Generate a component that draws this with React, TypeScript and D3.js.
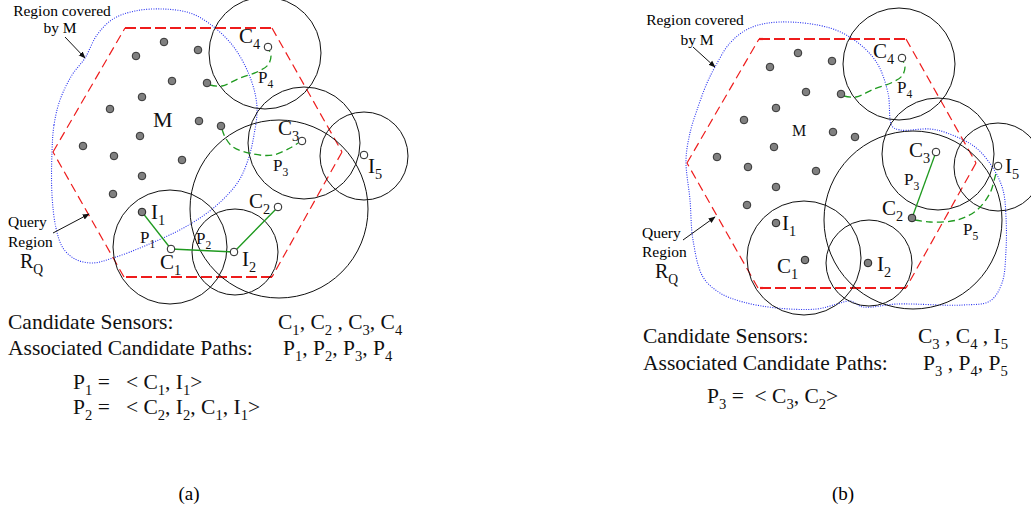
import * as d3 from 'd3';

// diagram units = panel (a) pixels; panel (b) uses the same geometry shifted
const memberDots: [number, number][] = [
  [164, 42], [136, 56], [198, 50], [172, 81], [207, 83], [142, 97], [110, 109],
  [199, 121], [221, 126], [140, 136], [83, 146], [114, 156], [182, 160],
  [142, 176], [113, 194],
];

const nodeNames = ['I1', 'C1', 'I2', 'C2', 'C3', 'C4', 'I5'];
const nodeX = [142, 171, 234, 278, 302, 268, 364];
const nodeY = [212, 249, 252, 207, 141, 47, 155];

const rangeCenters: [number, number][] = [
  [265, 53], [304, 143], [364, 156], [279, 209], [170, 247], [235, 252],
];
const rangeRadii = [56, 56, 44, 89, 57, 43];

const queryRegion: [number, number][] = [
  [125, 28], [272, 28], [342, 152], [272, 277], [124, 277], [53, 152],
];

const coveredA: [number, number][] = [
  [52, 152], [54, 125], [60, 100], [72, 75], [85, 58], [97, 35], [113, 19],
  [135, 11], [163, 9], [190, 13], [210, 24], [233, 46], [250, 77], [257, 107],
  [254, 135], [248, 160], [238, 182], [217, 205], [187, 226], [147, 245],
  [113, 258], [92, 263], [75, 259], [63, 248], [56, 228], [52, 195],
];

const coveredB: [number, number][] = [
  [52, 149], [56, 122], [63, 99], [73, 72], [81, 56], [96, 32], [116, 17],
  [146, 11], [196, 17], [223, 31], [243, 52], [254, 82], [258, 115], [266, 119],
  [296, 118], [313, 122], [341, 136], [359, 157], [369, 179], [372, 206],
  [372, 239], [368, 272], [356, 290], [329, 294], [263, 293], [229, 296],
  [216, 290], [203, 293], [183, 298], [143, 297], [109, 291], [86, 282],
  [69, 266], [59, 229], [56, 189],
];

const pathP4: [number, number][] = [
  [210, 85], [222, 86], [240, 78], [257, 72], [268, 65], [271, 56], [269, 50],
];
const pathP3a: [number, number][] = [
  [222, 129], [225, 137], [233, 147], [253, 154], [273, 155], [290, 148], [298, 143],
];
const pathP5: [number, number][] = [
  [281, 209], [296, 211], [323, 209], [343, 199], [356, 182], [361, 166], [363, 158],
];
const pathP1: [number, number][] = [[142, 212], [171, 249]];
const pathP2: [number, number][] = [[171, 249], [234, 252], [278, 207]];
const pathP3b: [number, number][] = [[302, 141], [278, 207]];

const labelsA: [string, number, number][] = [
  ['C_4', 239, 43], ['P_4', 258, 83], ['M', 153, 127], ['C_3', 278, 135],
  ['P_3', 273, 171], ['I_5', 368, 173], ['C_2', 249, 208], ['I_1', 151, 219],
  ['P_1', 140, 243], ['P_2', 196, 244], ['C_1', 160, 269], ['I_2', 242, 266],
];
const labelsB: [string, number, number][] = [
  ['C_4', 239, 47], ['P_4', 263, 82], ['M', 158, 125], ['C_3', 275, 146],
  ['P_3', 270, 174], ['I_5', 371, 162], ['C_2', 248, 204], ['P_5', 329, 224],
  ['I_1', 148, 219], ['C_1', 143, 262], ['I_2', 243, 260],
];

const openA = ['C1', 'C2', 'C3', 'C4', 'I2', 'I5'];
const openB = ['C3', 'C4', 'I5'];

const summaryA = [
  ['Candidate Sensors:', 'C_1, C_2 , C_3, C_4'],
  ['Associated Candidate Paths:', 'P_1, P_2, P_3, P_4'],
];
const summaryB = [
  ['Candidate Sensors:', 'C_3 , C_4 , I_5'],
  ['Associated Candidate Paths:', 'P_3 , P_4, P_5'],
];
const pathDefsA = ['P_1 =   < C_1, I_1>', 'P_2 =   < C_2, I_2, C_1, I_1>'];
const pathDefsB = ['P_3 =  < C_3, C_2>'];

const SERIF = "'Liberation Serif', 'DejaVu Serif', 'Times New Roman', serif";
const RED = '#ee1c1c';
const GREEN = '#1f9a1f';
const BLUE = '#2630f0';

function parseSub(s: string) {
  const out: { text: string; sub: boolean }[] = [];
  const re = /_(.)/g;
  let last = 0;
  let m: RegExpExecArray | null;
  while ((m = re.exec(s))) {
    if (m.index > last) out.push({ text: s.slice(last, m.index), sub: false });
    out.push({ text: m[1], sub: true });
    last = re.lastIndex;
  }
  if (last < s.length) out.push({ text: s.slice(last), sub: false });
  return out;
}

function RichText({ x, y, text, size, anchor }: { x: number; y: number; text: string; size: number; anchor?: string }) {
  const parts = parseSub(text);
  const shift = size * 0.28;
  let down = false;
  return (
    <text x={x} y={y} fontSize={size} fontFamily={SERIF} fill="#111" textAnchor={anchor}
      xmlSpace="preserve" style={{ whiteSpace: 'pre' }}>
      {parts.map((p, i) => {
        let dy = 0;
        if (p.sub && !down) { dy = shift; down = true; }
        else if (!p.sub && down) { dy = -shift; down = false; }
        return (
          <tspan key={i} dy={dy || undefined} fontSize={p.sub ? size * 0.68 : undefined}>
            {p.text}
          </tspan>
        );
      })}
    </text>
  );
}

function Panel({ ox, oy, covered, labels, open, variant }: {
  ox: number; oy: number; covered: [number, number][]; labels: [string, number, number][];
  open: string[]; variant: 'a' | 'b';
}) {
  const x = d3.scaleLinear().domain([0, 400]).range([ox, ox + 400]);
  const y = d3.scaleLinear().domain([0, 300]).range([oy, oy + 300]);
  const line = d3.line<[number, number]>().x((d) => x(d[0])).y((d) => y(d[1]));
  const smooth = d3.line<[number, number]>().x((d) => x(d[0])).y((d) => y(d[1])).curve(d3.curveCatmullRom.alpha(0.5));
  const blob = d3.line<[number, number]>().x((d) => x(d[0])).y((d) => y(d[1])).curve(d3.curveCatmullRomClosed.alpha(0.5));

  const edges = queryRegion.map((p, i) => [p, queryRegion[(i + 1) % queryRegion.length]] as [number, number][]);

  return (
    <g>
      <path d={blob(covered) ?? ''} fill="none" stroke={BLUE} strokeWidth={1.1} strokeDasharray="1,1.4" />
      {edges.map((e, i) => {
        const flat = e[0][1] === e[1][1];
        return (
          <path key={i} d={line(e) ?? ''} fill="none" stroke={RED}
            strokeWidth={flat ? 2.2 : 1.2} strokeDasharray={flat ? '11,4' : '9,5'} />
        );
      })}
      {rangeCenters.map((c, i) => (
        <circle key={i} cx={x(c[0])} cy={y(c[1])} r={rangeRadii[i]} fill="none" stroke="#111" strokeWidth={1} />
      ))}
      {variant === 'a' ? (
        <>
          <path d={smooth(pathP4) ?? ''} fill="none" stroke={GREEN} strokeWidth={1.3} strokeDasharray="7,4" />
          <path d={smooth(pathP3a) ?? ''} fill="none" stroke={GREEN} strokeWidth={1.3} strokeDasharray="7,4" />
          <path d={line(pathP1) ?? ''} fill="none" stroke={GREEN} strokeWidth={1.3} />
          <path d={line(pathP2) ?? ''} fill="none" stroke={GREEN} strokeWidth={1.3} />
        </>
      ) : (
        <>
          <path d={smooth(pathP4) ?? ''} fill="none" stroke={GREEN} strokeWidth={1.3} strokeDasharray="7,4" />
          <path d={line(pathP3b) ?? ''} fill="none" stroke={GREEN} strokeWidth={1.3} />
          <path d={smooth(pathP5) ?? ''} fill="none" stroke={GREEN} strokeWidth={1.3} strokeDasharray="7,4" />
        </>
      )}
      {memberDots.map((d, i) => (
        <circle key={i} cx={x(d[0])} cy={y(d[1])} r={3.8} fill="#808080" stroke="#333" strokeWidth={1} />
      ))}
      {nodeNames.map((n, i) => {
        const isOpen = open.includes(n);
        return (
          <circle key={n} cx={x(nodeX[i])} cy={y(nodeY[i])} r={3.8}
            fill={isOpen ? '#fff' : '#808080'} stroke="#222" strokeWidth={1} />
        );
      })}
      {labels.map(([t, lx, ly]) => {
        const size = t.startsWith('P') ? 17 : t === 'M' ? (variant === 'a' ? 22 : 16) : 21;
        return <RichText key={t} x={x(lx)} y={y(ly)} text={t} size={size} />;
      })}
    </g>
  );
}

export default function App() {
  return (
    <svg width={1031} height={514} viewBox="0 0 1031 514"
      style={{ position: 'absolute', left: 0, top: 0, background: '#fff' }}>
      <defs>
        <marker id="arr" viewBox="0 0 10 10" refX={9} refY={5} markerWidth={7} markerHeight={7} orient="auto">
          <path d="M0,1 L10,5 L0,9 Z" fill="#111" />
        </marker>
      </defs>
      <Panel ox={0} oy={0} covered={coveredA} labels={labelsA} open={openA} variant="a" />
      <Panel ox={634} oy={11} covered={coveredB} labels={labelsB} open={openB} variant="b" />

      {/* panel (a) annotations */}
      <text x={62} y={16} fontSize={15.5} fontFamily={SERIF} textAnchor="middle">Region covered</text>
      <text x={60} y={33} fontSize={15.5} fontFamily={SERIF} textAnchor="middle">by M</text>
      <line x1={65} y1={37} x2={85} y2={58} stroke="#111" strokeWidth={1} markerEnd="url(#arr)" />
      <text x={8} y={227} fontSize={15.5} fontFamily={SERIF}>Query</text>
      <text x={8} y={247} fontSize={15.5} fontFamily={SERIF}>Region</text>
      <RichText x={20} y={268} text="R_Q" size={20} />
      <line x1={53} y1={233} x2={89} y2={214} stroke="#111" strokeWidth={1} markerEnd="url(#arr)" />

      {summaryA.map(([a, b], i) => (
        <g key={i}>
          <text x={8} y={329 + i * 26} fontSize={21.5} fontFamily={SERIF} fill="#111">{a}</text>
          <RichText x={i === 0 ? 278 : 283} y={329 + i * 26} text={b} size={21.5} />
        </g>
      ))}
      {pathDefsA.map((t, i) => (
        <RichText key={i} x={73} y={389 + i * 25} text={t} size={21.5} />
      ))}

      {/* panel (b) annotations */}
      <text x={695} y={25} fontSize={15.5} fontFamily={SERIF} textAnchor="middle">Region covered</text>
      <text x={697} y={45} fontSize={15.5} fontFamily={SERIF} textAnchor="middle">by M</text>
      <line x1={693} y1={47} x2={715} y2={67} stroke="#111" strokeWidth={1} markerEnd="url(#arr)" />
      <text x={642} y={238} fontSize={15.5} fontFamily={SERIF}>Query</text>
      <text x={642} y={257} fontSize={15.5} fontFamily={SERIF}>Region</text>
      <RichText x={655} y={278} text="R_Q" size={20} />
      <line x1={683} y1={240} x2={715} y2={217} stroke="#111" strokeWidth={1} markerEnd="url(#arr)" />

      {summaryB.map(([a, b], i) => (
        <g key={i}>
          <text x={643} y={343 + i * 27} fontSize={21.5} fontFamily={SERIF} fill="#111">{a}</text>
          <RichText x={i === 0 ? 918 : 923} y={343 + i * 27} text={b} size={21.5} />
        </g>
      ))}
      {pathDefsB.map((t, i) => (
        <RichText key={i} x={707} y={403 + i * 25} text={t} size={21.5} />
      ))}

      <text x={189} y={500} fontSize={19} fontFamily={SERIF} textAnchor="middle">(a)</text>
      <text x={843} y={500} fontSize={19} fontFamily={SERIF} textAnchor="middle">(b)</text>
    </svg>
  );
}
